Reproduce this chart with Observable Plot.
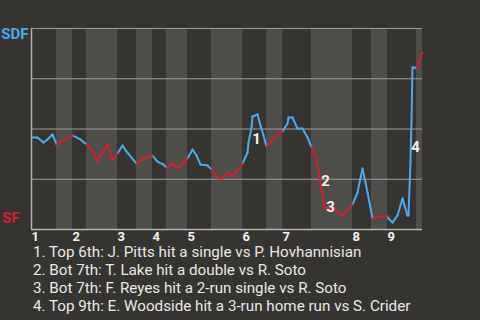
<!DOCTYPE html>
<html><head><meta charset="utf-8">
<script src="https://cdn.jsdelivr.net/npm/d3@7"></script>
<script src="https://cdn.jsdelivr.net/npm/@observablehq/plot@0.6"></script>
<style>
html,body{margin:0;padding:0;background:#363431;width:480px;height:320px;overflow:hidden;}
#chart svg{display:block;}
#caption{font-family:Roboto,sans-serif;font-size:15.2px;color:#e8e8e8;margin-left:33px;line-height:18px;white-space:nowrap;}
</style></head><body>
<div id="chart"></div>
<div id="caption"></div>
<script>
// play index (x) and SDF win probability (y)
const playX = [0, 1.2, 2.4, 3.2, 4.2, 5, 5.8, 7.2, 8.2, 9.8, 11,
  12.2, 13.2, 14.2, 15.2, 16.2, 17.2, 18.2, 19, 20, 21,
  22.4, 23.4, 24.2, 25.2, 26.4, 27, 28.2, 29.2, 30.4, 31.2,
  32.2, 33, 33.8, 35.2, 36, 37.4, 38.2, 39.4, 40.4, 42.2,
  43.2, 43.4, 44, 44.2, 45.2, 45.8, 46.4, 47, 48.4, 49.4, 50.2,
  51.2, 51.4, 52.2, 53.2, 54.2, 55.2, 56, 57, 57.8, 58.6, 60.4, 62.2, 64.2,
  65.2, 66.2, 66.8, 67.4, 68.2, 68.4, 69.4, 71.2,
  71.4, 72.2, 73.2, 74.2, 74.6, 75.2, 75.4, 75.8, 76, 76.2, 76.6, 77,
  77.4, 77.8, 78.2];
const winProb = [0.458, 0.458, 0.433, 0.448, 0.473, 0.423, 0.433, 0.453, 0.468, 0.448, 0.423,
  0.393, 0.338, 0.383, 0.423, 0.348, 0.378, 0.418, 0.388, 0.358, 0.328,
  0.353, 0.363, 0.368, 0.338, 0.323, 0.308, 0.328, 0.303, 0.333, 0.353,
  0.398, 0.368, 0.323, 0.318, 0.299, 0.254, 0.254, 0.284, 0.264, 0.328,
  0.383, 0.433, 0.507, 0.562, 0.572, 0.517, 0.468, 0.413, 0.453, 0.478, 0.488,
  0.527, 0.557, 0.557, 0.502, 0.502, 0.458, 0.408, 0.353, 0.234, 0.109, 0.100, 0.070, 0.124,
  0.184, 0.303, 0.234, 0.159, 0.055, 0.055, 0.065, 0.065,
  0.055, 0.035, 0.070, 0.154, 0.119, 0.070, 0.070, 0.343, 0.545, 0.806, 0.806, 0.801,
  0.831, 0.856, 0.881];
// half-inning start positions (top 1, bot 1, top 2, ...), last = end
const halfBounds = [0, 5, 8.2, 11, 17.2, 21, 24.2, 27, 31.2, 36, 42.2, 47, 50.2, 56, 64.2, 68, 71.2, 77, 78.2];
const inningLabels = ["1", "2", "3", "4", "5", "6", "7", "8", "9"];
const noteLabels = ["1", "2", "3", "4"];
const noteX = [45, 58.8, 59.8, 76.8];
const noteY = [0.448, 0.239, 0.109, 0.408];
const captions = [
  "1. Top 6th: J. Pitts hit a single vs P. Hovhannisian",
  "2. Bot 7th: T. Lake hit a double vs R. Soto",
  "3. Bot 7th: F. Reyes hit a 2-run single vs R. Soto",
  "4. Top 9th: E. Woodside hit a 3-run home run vs S. Crider"
];
const teams = ["SDF", "SF"];

const BLUE = "#4aabf0", RED = "#d21f2e";

const halves = halfBounds.slice(0, -1).map((s, i) => ({x1: s, x2: halfBounds[i + 1], top: i % 2 === 0}));
const segs = [];
for (let i = 0; i < playX.length - 1; i++) {
  const mid = (playX[i] + playX[i + 1]) / 2;
  let h = 0;
  for (let k = 0; k < halves.length; k++) if (mid >= halves[k].x1) h = k;
  segs.push({x1: playX[i], y1: winProb[i], x2: playX[i + 1], y2: winProb[i + 1], top: halves[h].top});
}
const innings = inningLabels.map((t, i) => ({x: halfBounds[i * 2], t}));
const notes = noteLabels.map((t, i) => ({t, x: noteX[i], y: noteY[i]}));

const chart = Plot.plot({
  width: 480, height: 243,
  marginLeft: 31, marginRight: 58, marginTop: 28, marginBottom: 14,
  style: {background: "#363431", fontFamily: "Roboto, sans-serif", overflow: "visible"},
  x: {domain: [0, 78.2], axis: null},
  y: {domain: [0, 1], axis: null},
  marks: [
    Plot.rect(halves.filter(d => !d.top), {x1: "x1", x2: "x2", y1: 0, y2: 1, fill: "#4f4d4a"}),
    Plot.ruleY([0.25, 0.5, 0.75, 1], {stroke: "#a09e9a", strokeWidth: 1}),
    Plot.ruleY([0], {stroke: "#b5b3af", strokeWidth: 1.5}),
    Plot.ruleX([0], {y1: 0, y2: 1, stroke: "#b5b3af", strokeWidth: 1.5}),
    Plot.link(segs.filter(d => d.top), {x1: "x1", y1: "y1", x2: "x2", y2: "y2", stroke: BLUE, strokeWidth: 2, strokeLinecap: "round"}),
    Plot.link(segs.filter(d => !d.top), {x1: "x1", y1: "y1", x2: "x2", y2: "y2", stroke: RED, strokeWidth: 2, strokeLinecap: "round"}),
    Plot.text(notes, {x: "x", y: "y", text: "t", fill: "#f2f2f2", fontSize: 15, fontWeight: "bold", lineAnchor: "middle"}),
    Plot.text(innings, {x: "x", y: 0, text: "t", textAnchor: "start", lineAnchor: "top", dy: 2, fill: "#f2f2f2", fontSize: 13, fontWeight: "bold"}),
    Plot.text([teams[0]], {x: 0, y: 1, text: d => d, textAnchor: "end", lineAnchor: "middle", dx: -3, dy: 6, fill: BLUE, fontSize: 15, fontWeight: "bold"}),
    Plot.text([teams[1]], {x: 0, y: 0, text: d => d, textAnchor: "end", lineAnchor: "middle", dx: -12, dy: -11, fill: RED, fontSize: 15, fontWeight: "bold"})
  ]
});
document.getElementById("chart").appendChild(chart);
document.getElementById("caption").innerHTML = captions.map(c => `<div>${c}</div>`).join("");
</script>
</body></html>
